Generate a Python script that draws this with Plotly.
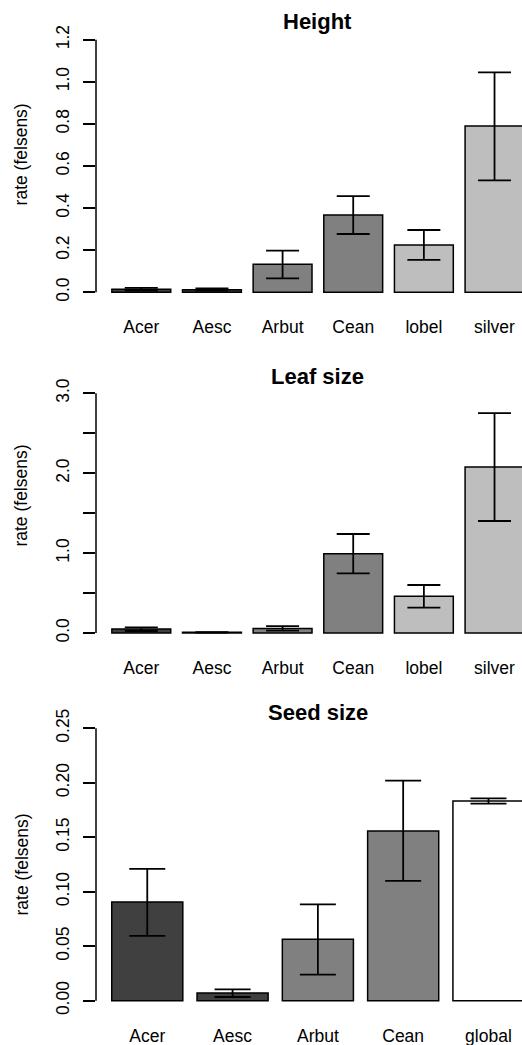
import plotly.graph_objects as go

# ---------------- data ----------------
height_cats = ["Acer", "Aesc", "Arbut", "Cean", "lobel", "silver"]
height_vals = [0.014, 0.012, 0.133, 0.367, 0.225, 0.790]
height_lo = [0.008, 0.008, 0.066, 0.277, 0.154, 0.532]
height_hi = [0.021, 0.018, 0.198, 0.457, 0.296, 1.045]

leaf_cats = ["Acer", "Aesc", "Arbut", "Cean", "lobel", "silver"]
leaf_vals = [0.050, 0.008, 0.055, 0.993, 0.459, 2.078]
leaf_lo = [0.025, 0.004, 0.030, 0.747, 0.317, 1.402]
leaf_hi = [0.070, 0.012, 0.085, 1.239, 0.601, 2.753]

seed_cats = ["Acer", "Aesc", "Arbut", "Cean", "global"]
seed_vals = [0.0906, 0.0070, 0.0563, 0.1558, 0.1833]
seed_lo = [0.0594, 0.0034, 0.0239, 0.1099, 0.1808]
seed_hi = [0.1209, 0.0104, 0.0884, 0.2020, 0.1857]

six_colors = ["#404040", "#404040", "#808080", "#808080", "#bebebe", "#bebebe"]
five_colors = ["#404040", "#404040", "#808080", "#808080", "#ffffff"]

height_ticks = [0.0, 0.2, 0.4, 0.6, 0.8, 1.0, 1.2]
height_ticktext = ["0.0", "0.2", "0.4", "0.6", "0.8", "1.0", "1.2"]
leaf_ticks = [0.0, 0.5, 1.0, 1.5, 2.0, 2.5, 3.0]
leaf_ticktext = ["0.0", "", "1.0", "", "2.0", "", "3.0"]
seed_ticks = [0.00, 0.05, 0.10, 0.15, 0.20, 0.25]
seed_ticktext = ["0.00", "0.05", "0.10", "0.15", "0.20", "0.25"]

# ---------------- layout geometry ----------------
W, H = 522, 1045
FONT = "Liberation Sans, Arial, Helvetica, sans-serif"
FS = 17.5
AXIS_X = 96.0


def ydomain(zero_px, px_per_unit, yrange):
    top = zero_px - yrange[1] * px_per_unit
    bottom = zero_px - yrange[0] * px_per_unit
    return [1 - bottom / H, 1 - top / H], (top + bottom) / 2


panels = [
    dict(title="Height", cats=height_cats, vals=height_vals, lo=height_lo, hi=height_hi,
         colors=six_colors, ticks=height_ticks, ticktext=height_ticktext, top_tick=1.2,
         yrange=[-0.05, 1.36], zero_px=292.3, ppu=210.5, xrange=[-0.641, 5.389],
         cap=16.5, title_y=22.0),
    dict(title="Leaf size", cats=leaf_cats, vals=leaf_vals, lo=leaf_lo, hi=leaf_hi,
         colors=six_colors, ticks=leaf_ticks, ticktext=leaf_ticktext, top_tick=3.0,
         yrange=[-0.14, 3.58], zero_px=633.0, ppu=79.9, xrange=[-0.641, 5.389],
         cap=16.5, title_y=376.5),
    dict(title="Seed size", cats=seed_cats, vals=seed_vals, lo=seed_lo, hi=seed_hi,
         colors=five_colors, ticks=seed_ticks, ticktext=seed_ticktext, top_tick=0.25,
         yrange=[-0.01, 0.26], zero_px=1000.7, ppu=1089.6, xrange=[-0.601, 4.393],
         cap=18.0, title_y=712.3),
]

fig = go.Figure()
annotations = []
shapes = []
layout_axes = {}

for i, p in enumerate(panels, start=1):
    sfx = "" if i == 1 else str(i)
    xa, ya = "x" + sfx, "y" + sfx
    err_plus = [h - v for h, v in zip(p["hi"], p["vals"])]
    err_minus = [v - l for v, l in zip(p["vals"], p["lo"])]
    fig.add_trace(go.Bar(
        x=p["cats"], y=p["vals"], xaxis=xa, yaxis=ya,
        marker=dict(color=p["colors"], line=dict(color="black", width=1.5)),
        error_y=dict(type="data", symmetric=False, array=err_plus, arrayminus=err_minus,
                     color="black", thickness=1.8, width=p["cap"]),
        showlegend=False, hoverinfo="skip",
    ))
    ydom, ymid = ydomain(p["zero_px"], p["ppu"], p["yrange"])
    layout_axes["xaxis" + sfx] = dict(
        domain=[AXIS_X / W, 1], anchor=ya, type="category", range=p["xrange"],
        showgrid=False, zeroline=False, showline=False,
        ticks="outside", ticklen=8, tickcolor="rgba(0,0,0,0)",
        tickfont=dict(family=FONT, size=FS, color="black"), automargin=False,
        fixedrange=True,
    )
    layout_axes["yaxis" + sfx] = dict(
        domain=ydom, anchor=xa, range=p["yrange"], showgrid=False, zeroline=False,
        showline=False, ticks="outside", ticklen=12, tickwidth=1.5, tickcolor="black",
        tickvals=p["ticks"], ticktext=p["ticktext"], tickangle=-90,
        ticklabelstandoff=7,
        tickfont=dict(family=FONT, size=FS, color="black"), automargin=False,
        fixedrange=True,
    )
    shapes.append(dict(type="line", xref=xa + " domain", yref=ya, x0=0, x1=0,
                       y0=0, y1=p["top_tick"], line=dict(color="black", width=1.5)))
    annotations.append(dict(text="<b>" + p["title"] + "</b>", xref="paper", yref="paper",
                            x=317.7 / W, y=1 - p["title_y"] / H, xanchor="center",
                            yanchor="middle", showarrow=False,
                            font=dict(family=FONT, size=22, color="black")))
    annotations.append(dict(text="rate (felsens)", xref="paper", yref="paper",
                            x=21 / W, y=1 - ymid / H, xanchor="center", yanchor="middle",
                            textangle=-90, showarrow=False,
                            font=dict(family=FONT, size=FS, color="black")))

fig.update_layout(
    width=W, height=H, margin=dict(l=0, r=0, t=0, b=0),
    paper_bgcolor="white", plot_bgcolor="white",
    bargap=1 - 1 / 1.2,
    annotations=annotations, shapes=shapes,
    **layout_axes,
)

fig.write_html("out.html", config={"displayModeBar": False})
